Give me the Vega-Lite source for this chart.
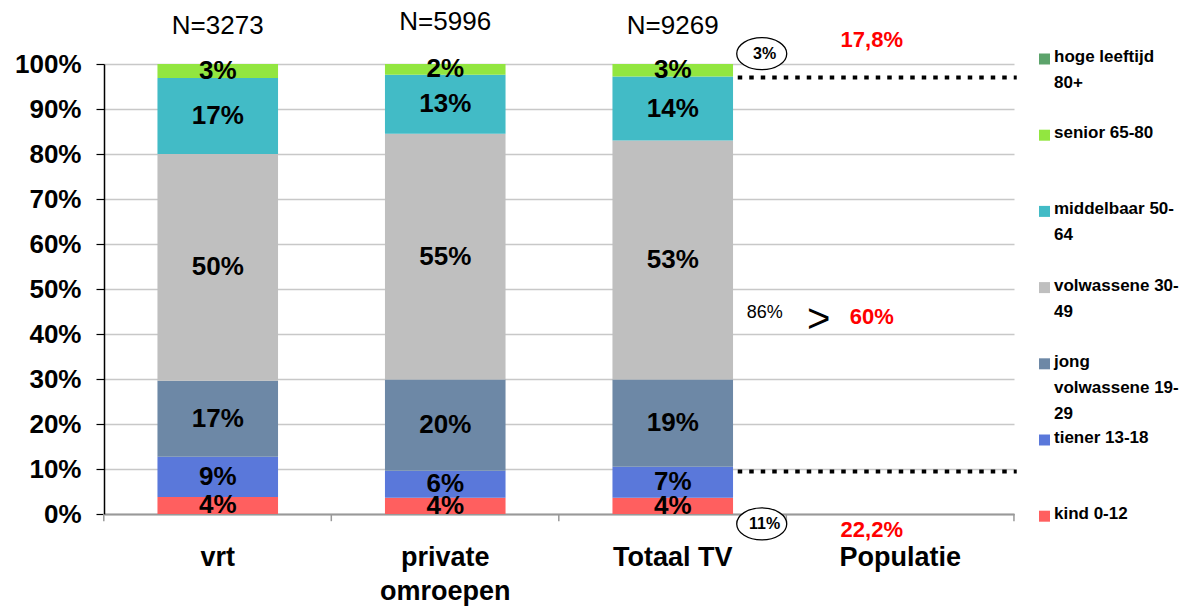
{
  "$schema": "https://vega.github.io/schema/vega-lite/v6.json",
  "autosize": {"type": "none"},
  "width": 910,
  "height": 450,
  "padding": {"left": 104, "top": 64, "right": 185, "bottom": 92},
  "background": "white",
  "config": {"view": {"stroke": null}, "font": "Liberation Sans"},
  "datasets": {
    "bars": [
      {"cat": "vrt", "group": "kind 0-12", "ord": 1, "value": 3.8},
      {"cat": "vrt", "group": "tiener 13-18", "ord": 2, "value": 8.9},
      {"cat": "vrt", "group": "jong volwassene 19-29", "ord": 3, "value": 16.9},
      {"cat": "vrt", "group": "volwassene 30-49", "ord": 4, "value": 50.4},
      {"cat": "vrt", "group": "middelbaar 50-64", "ord": 5, "value": 16.9},
      {"cat": "vrt", "group": "senior 65-80", "ord": 6, "value": 3.1},
      {"cat": "private omroepen", "group": "kind 0-12", "ord": 1, "value": 3.6},
      {"cat": "private omroepen", "group": "tiener 13-18", "ord": 2, "value": 6.0},
      {"cat": "private omroepen", "group": "jong volwassene 19-29", "ord": 3, "value": 20.3},
      {"cat": "private omroepen", "group": "volwassene 30-49", "ord": 4, "value": 54.6},
      {"cat": "private omroepen", "group": "middelbaar 50-64", "ord": 5, "value": 13.1},
      {"cat": "private omroepen", "group": "senior 65-80", "ord": 6, "value": 2.4},
      {"cat": "Totaal TV", "group": "kind 0-12", "ord": 1, "value": 3.6},
      {"cat": "Totaal TV", "group": "tiener 13-18", "ord": 2, "value": 6.9},
      {"cat": "Totaal TV", "group": "jong volwassene 19-29", "ord": 3, "value": 19.4},
      {"cat": "Totaal TV", "group": "volwassene 30-49", "ord": 4, "value": 53.1},
      {"cat": "Totaal TV", "group": "middelbaar 50-64", "ord": 5, "value": 14.2},
      {"cat": "Totaal TV", "group": "senior 65-80", "ord": 6, "value": 2.8}
    ],
    "ntext": [
      {"cat": "vrt", "y": 108.5, "text": "N=3273"},
      {"cat": "private omroepen", "y": 109.3, "text": "N=5996"},
      {"cat": "Totaal TV", "y": 108.5, "text": "N=9269"}
    ],
    "red": [
      {"cat": "Populatie", "y": 105.4, "text": "17,8%"},
      {"cat": "Populatie", "y": 43.8, "text": "60%"},
      {"cat": "Populatie", "y": -3.5, "text": "22,2%"}
    ],
    "pct86": [{"cat": "Totaal TV", "y": 44.7, "text": "86%"}],
    "gt": [{"cat": "Populatie", "y": 43.2, "text": ">"}],
    "circled": [
      {"cat": "Totaal TV", "y": 102.3, "text": "3%"},
      {"cat": "Totaal TV", "y": -2.2, "text": "11%"}
    ],
    "dotted": [
      {"cat": "Totaal TV", "cat2": "Populatie", "y": 97.0},
      {"cat": "Totaal TV", "cat2": "Populatie", "y": 9.47}
    ],
    "ticks": [
      {"cat": "vrt"},
      {"cat": "private omroepen"},
      {"cat": "Totaal TV"},
      {"cat": "Populatie"}
    ],
    "endtick": [{"cat": "Populatie"}]
  },
  "layer": [
    {
      "data": {"name": "bars"},
      "mark": {"type": "bar"},
      "encoding": {
        "x": {
          "field": "cat",
          "type": "nominal",
          "scale": {
            "domain": ["vrt", "private omroepen", "Totaal TV", "Populatie"],
            "paddingInner": 0.47,
            "paddingOuter": 0.235
          },
          "axis": {
            "title": null,
            "labelAngle": 0,
            "labelFont": "Liberation Sans",
            "labelFontSize": 27,
            "labelFontWeight": "bold",
            "labelColor": "black",
            "labelPadding": 23,
            "labelLineHeight": 34,
            "labelExpr": "datum.label == 'private omroepen' ? ['private', 'omroepen'] : datum.label",
            "tickSize": 7,
            "tickOpacity": 0,
            "domainColor": "#999999",
            "domainWidth": 2,
            "grid": false
          }
        },
        "y": {
          "field": "value",
          "type": "quantitative",
          "stack": "zero",
          "scale": {"domain": [0, 100], "nice": false},
          "axis": {
            "title": null,
            "values": [0, 10, 20, 30, 40, 50, 60, 70, 80, 90, 100],
            "labelExpr": "datum.value + '%'",
            "labelFont": "Liberation Sans",
            "labelFontSize": 26,
            "labelFontWeight": "bold",
            "labelColor": "black",
            "labelPadding": 15,
            "tickSize": 8,
            "tickColor": "black",
            "tickWidth": 1.2,
            "domainColor": "black",
            "domainWidth": 1.5,
            "grid": true,
            "gridColor": "#C8C8C8",
            "gridWidth": 1.5
          }
        },
        "color": {
          "field": "group",
          "type": "nominal",
          "scale": {
            "domain": ["hoge leeftijd 80+", "senior 65-80", "middelbaar 50-64", "volwassene 30-49", "jong volwassene 19-29", "tiener 13-18", "kind 0-12"],
            "range": ["#5CA36B", "#92E640", "#42BBC6", "#BFBFBF", "#6D88A6", "#5A78DA", "#FF5F5F"]
          },
          "legend": {
            "orient": "none",
            "legendX": 932,
            "legendY": -13.5,
            "title": null,
            "padding": 0,
            "symbolType": "square",
            "symbolSize": 121,
            "symbolStrokeWidth": 0,
            "symbolOpacity": 1,
            "labelFont": "Liberation Sans",
            "labelFontSize": 17,
            "labelFontWeight": "bold",
            "labelColor": "black",
            "labelOffset": 1,
            "labelLimit": 0,
            "labelBaseline": "line-top",
            "rowPadding": 6.2,
            "labelExpr": "datum.label == 'hoge leeftijd 80+' ? ['hoge leeftijd', '80+', ''] : datum.label == 'middelbaar 50-64' ? ['middelbaar 50-', '64', ''] : datum.label == 'volwassene 30-49' ? ['volwassene 30-', '49', ''] : datum.label == 'jong volwassene 19-29' ? ['jong', 'volwassene 19-', '29'] : [datum.label, '', '']",
            "encode": {"labels": {"update": {"y": {"value": -6.5}, "lineHeight": {"value": 26}}}}
          }
        },
        "order": {"field": "ord", "type": "quantitative", "sort": "ascending"}
      }
    },
    {
      "data": {"name": "bars"},
      "transform": [
        {"stack": "value", "groupby": ["cat"], "sort": [{"field": "ord", "order": "ascending"}], "as": ["v0", "v1"]},
        {"calculate": "(datum.v0 + datum.v1) / 2", "as": "mid"},
        {"calculate": "format(datum.value, '.0f') + '%'", "as": "lbl"}
      ],
      "mark": {"type": "text", "font": "Liberation Sans", "fontSize": 26, "fontWeight": "bold", "color": "black", "baseline": "middle"},
      "encoding": {
        "x": {"field": "cat", "type": "nominal"},
        "y": {"field": "mid", "type": "quantitative"},
        "text": {"field": "lbl"}
      }
    },
    {
      "data": {"name": "ticks"},
      "mark": {"type": "rule", "color": "#999999", "strokeWidth": 1.5},
      "encoding": {
        "x": {"field": "cat", "type": "nominal", "bandPosition": -0.445},
        "y": {"datum": 0, "type": "quantitative"},
        "y2": {"datum": -1.6}
      }
    },
    {
      "data": {"name": "endtick"},
      "mark": {"type": "rule", "color": "#999999", "strokeWidth": 1.5},
      "encoding": {
        "x": {"field": "cat", "type": "nominal", "bandPosition": 1.443},
        "y": {"datum": 0, "type": "quantitative"},
        "y2": {"datum": -1.6}
      }
    },
    {
      "data": {"name": "ntext"},
      "mark": {"type": "text", "font": "Liberation Sans", "fontSize": 26, "color": "black", "baseline": "middle"},
      "encoding": {
        "x": {"field": "cat", "type": "nominal"},
        "y": {"field": "y", "type": "quantitative"},
        "text": {"field": "text"}
      }
    },
    {
      "data": {"name": "red"},
      "mark": {"type": "text", "font": "Liberation Sans", "fontSize": 22, "fontWeight": "bold", "color": "#FF0000", "baseline": "middle"},
      "encoding": {
        "x": {"field": "cat", "type": "nominal", "bandPosition": 0.264},
        "y": {"field": "y", "type": "quantitative"},
        "text": {"field": "text"}
      }
    },
    {
      "data": {"name": "pct86"},
      "mark": {"type": "text", "font": "Liberation Sans", "fontSize": 18, "color": "black", "baseline": "middle"},
      "encoding": {
        "x": {"field": "cat", "type": "nominal", "bandPosition": 1.263},
        "y": {"field": "y", "type": "quantitative"},
        "text": {"field": "text"}
      }
    },
    {
      "data": {"name": "gt"},
      "mark": {"type": "text", "font": "Liberation Sans", "fontSize": 40, "color": "black", "baseline": "middle"},
      "encoding": {
        "x": {"field": "cat", "type": "nominal", "bandPosition": -0.176},
        "y": {"field": "y", "type": "quantitative"},
        "text": {"field": "text"}
      }
    },
    {
      "data": {"name": "circled"},
      "mark": {
        "type": "point",
        "shape": "M -1 0 C -1 -0.3535 -0.5523 -0.64 0 -0.64 C 0.5523 -0.64 1 -0.3535 1 0 C 1 0.3535 0.5523 0.64 0 0.64 C -0.5523 0.64 -1 0.3535 -1 0 Z",
        "size": 2500,
        "filled": true,
        "fill": "white",
        "stroke": "black",
        "strokeWidth": 1.3,
        "opacity": 1
      },
      "encoding": {
        "x": {"field": "cat", "type": "nominal", "bandPosition": 1.238},
        "y": {"field": "y", "type": "quantitative"}
      }
    },
    {
      "data": {"name": "circled"},
      "mark": {"type": "text", "font": "Liberation Sans", "fontSize": 16, "fontWeight": "bold", "color": "black", "baseline": "middle"},
      "encoding": {
        "x": {"field": "cat", "type": "nominal", "bandPosition": 1.262},
        "y": {"field": "y", "type": "quantitative"},
        "text": {"field": "text"}
      }
    },
    {
      "data": {"name": "dotted"},
      "mark": {"type": "rule", "color": "black", "strokeWidth": 4, "strokeDash": [4.5, 7], "strokeCap": "butt"},
      "encoding": {
        "x": {"field": "cat", "type": "nominal", "bandPosition": 1.039},
        "x2": {"field": "cat2", "bandPosition": 1.466},
        "y": {"field": "y", "type": "quantitative"}
      }
    }
  ]
}
